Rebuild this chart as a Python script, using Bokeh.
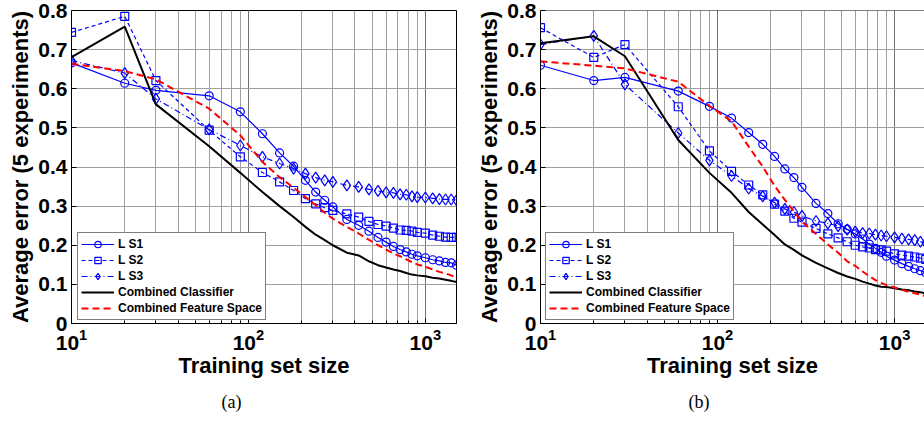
from bokeh.plotting import figure
from bokeh.layouts import row
from bokeh.models import (Legend, LegendItem, FixedTicker, Title, Span)
from bokeh.embed import file_html
from bokeh.resources import INLINE

# Training set sizes
sizes = [10, 20, 30, 60, 90, 120, 150, 180, 210, 240, 270, 300, 360, 420, 480,
         540, 600, 660, 720, 780, 840, 900, 1000, 1100, 1200, 1300, 1400, 1500]

# ---- panel (a)
a_ls1 = [0.666, 0.614, 0.596, 0.582, 0.541, 0.485, 0.436, 0.402, 0.366, 0.336,
         0.315, 0.298, 0.266, 0.251, 0.236, 0.220, 0.208, 0.197, 0.189, 0.183,
         0.177, 0.173, 0.168, 0.163, 0.160, 0.156, 0.155, 0.149]
a_ls2 = [0.744, 0.785, 0.621, 0.494, 0.426, 0.386, 0.362, 0.340, 0.319, 0.306,
         0.296, 0.289, 0.280, 0.272, 0.261, 0.253, 0.249, 0.244, 0.239, 0.238,
         0.236, 0.233, 0.231, 0.226, 0.223, 0.221, 0.220, 0.220]
a_ls3 = [0.672, 0.640, 0.574, 0.496, 0.455, 0.426, 0.409, 0.396, 0.383, 0.373,
         0.366, 0.362, 0.353, 0.349, 0.343, 0.339, 0.335, 0.334, 0.330, 0.329,
         0.325, 0.323, 0.322, 0.320, 0.318, 0.317, 0.317, 0.315]
a_cc = [0.681, 0.759, 0.560, 0.453, 0.385, 0.336, 0.300, 0.272, 0.247, 0.227,
        0.213, 0.200, 0.181, 0.174, 0.159, 0.149, 0.143, 0.138, 0.134, 0.129,
        0.125, 0.123, 0.121, 0.117, 0.115, 0.112, 0.109, 0.106]
a_cfs = [0.664, 0.645, 0.624, 0.549, 0.481, 0.413, 0.374, 0.347, 0.323, 0.302,
         0.283, 0.268, 0.247, 0.230, 0.214, 0.200, 0.189, 0.179, 0.172, 0.164,
         0.157, 0.151, 0.145, 0.138, 0.132, 0.128, 0.123, 0.117]

# ---- panel (b)
b_ls1 = [0.660, 0.621, 0.629, 0.594, 0.555, 0.525, 0.488, 0.458, 0.427, 0.395,
         0.373, 0.348, 0.307, 0.281, 0.255, 0.241, 0.229, 0.216, 0.203, 0.192,
         0.182, 0.172, 0.162, 0.153, 0.146, 0.140, 0.135, 0.130]
b_ls2 = [0.756, 0.680, 0.713, 0.554, 0.441, 0.389, 0.354, 0.329, 0.305, 0.287,
         0.269, 0.259, 0.243, 0.229, 0.219, 0.209, 0.200, 0.196, 0.193, 0.189,
         0.188, 0.185, 0.178, 0.175, 0.172, 0.170, 0.167, 0.164]
b_ls3 = [0.713, 0.735, 0.611, 0.487, 0.417, 0.377, 0.345, 0.325, 0.309, 0.293,
         0.285, 0.275, 0.262, 0.256, 0.249, 0.240, 0.235, 0.231, 0.230, 0.227,
         0.225, 0.223, 0.220, 0.217, 0.215, 0.213, 0.209, 0.206]
b_cc = [0.716, 0.734, 0.683, 0.469, 0.385, 0.334, 0.285, 0.253, 0.226, 0.202,
        0.188, 0.174, 0.155, 0.141, 0.129, 0.120, 0.114, 0.107, 0.102, 0.097,
        0.094, 0.093, 0.090, 0.087, 0.085, 0.082, 0.080, 0.077]
b_cfs = [0.670, 0.659, 0.652, 0.618, 0.556, 0.517, 0.452, 0.401, 0.352, 0.316,
         0.287, 0.260, 0.229, 0.202, 0.181, 0.159, 0.147, 0.133, 0.121, 0.111,
         0.104, 0.098, 0.092, 0.086, 0.081, 0.077, 0.074, 0.070]

y_ticks = [0, 0.1, 0.2, 0.3, 0.4, 0.5, 0.6, 0.7, 0.8]
y_tick_labels = ["0", "0.1", "0.2", "0.3", "0.4", "0.5", "0.6", "0.7", "0.8"]
series_names = ["L S1", "L S2", "L S3", "Combined Classifier", "Combined Feature Space"]
captions = ["(a)", "(b)"]

FONT = "Liberation Sans"
BLUE = "#0000ff"


def make(ls1, ls2, ls3, cc, cfs, caption, width, xend, mb_right, leg_x, cap_off, box):
    p = figure(width=width, height=421, x_axis_type="log", x_range=(10, xend),
               y_range=(0, 0.8), output_backend="svg", toolbar_location=None,
               min_border_left=71, min_border_right=mb_right, min_border_top=10,
               min_border_bottom=98)
    p.background_fill_color = "white"
    p.border_fill_color = "white"
    if box:
        p.outline_line_color = "black"
        p.outline_line_width = 1
    else:
        p.outline_line_color = None
        p.add_layout(Span(location=0.8, dimension="width", line_color="black", line_width=1))

    p.yaxis.ticker = FixedTicker(ticks=y_ticks)
    p.yaxis.major_label_overrides = {t: l for t, l in zip(y_ticks, y_tick_labels)}
    for ax in (p.xaxis[0], p.yaxis[0]):
        ax.major_label_text_font = FONT
        ax.major_label_text_font_style = "bold"
        ax.major_label_text_font_size = "21px"
        ax.major_label_text_color = "black"
        ax.axis_label_text_font = FONT
        ax.axis_label_text_font_style = "bold"
        ax.axis_label_text_font_size = "22px"
        ax.axis_label_text_color = "black"
        ax.axis_line_color = "black"
        ax.major_tick_in = 5
        ax.major_tick_out = 0
        ax.minor_tick_in = 3
        ax.minor_tick_out = 0
        ax.major_tick_line_color = "black"
        ax.minor_tick_line_color = "black"
    p.xaxis.axis_label = "Training set size"
    p.yaxis.axis_label = "Average error (5 experiments)"
    p.xaxis.major_label_standoff = 5
    p.xaxis.axis_label_standoff = 0
    p.yaxis.major_label_standoff = 4
    p.yaxis.axis_label_standoff = 2

    p.xgrid.grid_line_color = "#707070"
    p.xgrid.minor_grid_line_color = "#a0a0a0"
    p.ygrid.grid_line_color = "#a0a0a0"

    l1 = p.line(sizes, ls1, line_color=BLUE, line_width=1.2)
    m1 = p.scatter(sizes, ls1, marker="circle", size=8, line_color=BLUE,
                   fill_color=None, line_width=1.2)
    l2 = p.line(sizes, ls2, line_color=BLUE, line_width=1.2, line_dash="4 3")
    m2 = p.scatter(sizes, ls2, marker="square", size=8, line_color=BLUE,
                   fill_color=None, line_width=1.2)
    l3 = p.line(sizes, ls3, line_color=BLUE, line_width=1.2, line_dash="6 3 1 3")
    m3 = p.scatter(sizes, ls3, marker="diamond", size=11, line_color=BLUE,
                   fill_color=None, line_width=1.2)
    l4 = p.line(sizes, cc, line_color="black", line_width=2)
    l5 = p.line(sizes, cfs, line_color="#ff0000", line_width=2, line_dash="7 4")

    legend = Legend(items=[
        LegendItem(label=series_names[0], renderers=[l1, m1]),
        LegendItem(label=series_names[1], renderers=[l2, m2]),
        LegendItem(label=series_names[2], renderers=[l3, m3]),
        LegendItem(label=series_names[3], renderers=[l4]),
        LegendItem(label=series_names[4], renderers=[l5]),
    ], location=(leg_x, 3))
    legend.label_text_font = FONT
    legend.label_text_font_style = "bold"
    legend.label_text_font_size = "12px"
    legend.label_text_color = "black"
    legend.border_line_color = "black"
    legend.border_line_width = 1.5
    legend.background_fill_alpha = 1
    legend.padding = 3
    legend.spacing = 0
    legend.margin = 0
    legend.glyph_width = 33
    legend.glyph_height = 16
    legend.label_height = 16
    legend.label_standoff = 4
    p.add_layout(legend)

    cap = Title(text=caption, align="left", offset=cap_off, text_font="Liberation Serif",
                text_font_size="18px", text_font_style="normal", text_color="black",
                standoff=18)
    p.add_layout(cap, "below")
    return p


p1 = make(a_ls1, a_ls2, a_ls3, a_cc, a_cfs, captions[0], 469, 1500, 13, 6, 150, True)
p2 = make(b_ls1, b_ls2, b_ls3, b_cc, b_cfs, captions[1], 455, 1476, 0, 5, 148, False)

layout = row(p1, p2)
open("out.html", "w").write(file_html(layout, INLINE))
